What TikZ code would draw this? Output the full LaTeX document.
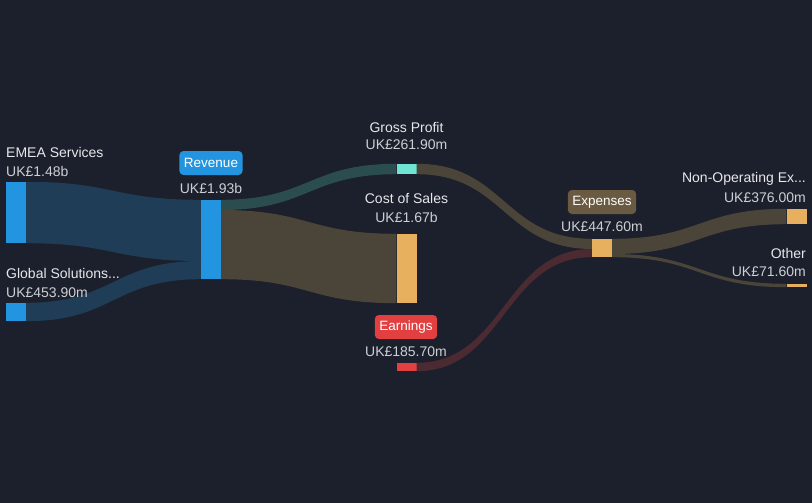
\documentclass[tikz,border=0pt]{standalone}
\usepackage{fontspec}
\setmainfont{Liberation Sans}
\usetikzlibrary{calc}

\definecolor{bg}{RGB}{27,32,44}
\definecolor{barblue}{RGB}{35,148,223}
\definecolor{blueflow}{RGB}{31,61,86}
\definecolor{barteal}{RGB}{112,228,210}
\definecolor{tealflow}{RGB}{44,77,80}
\definecolor{bargold}{RGB}{230,176,94}
\definecolor{brownflow}{RGB}{75,68,57}
\definecolor{barred}{RGB}{226,64,64}
\definecolor{redflow}{RGB}{75,42,50}
\definecolor{expbox}{RGB}{106,90,66}
\definecolor{lbl}{RGB}{232,232,235}
\definecolor{val}{RGB}{205,207,212}

% ribbon from one bar slice to another
\newcommand{\ribbon}[5]{%
  \path ($(#1)!.5!(#3)$) coordinate (mid);
  \fill[#5] (#1) .. controls (mid |- #1) and (mid |- #3) .. (#3) -- (#4)
    .. controls (mid |- #4) and (mid |- #2) .. (#2) -- cycle;}

\tikzset{
  bar/.style={fill=#1, inner sep=0pt, minimum width=20pt},
  catname/.style={text=lbl, inner sep=0pt, font=\fontsize{14}{16}\selectfont},
  amount/.style={text=val, inner sep=0pt, font=\fontsize{14}{16}\selectfont},
  tag/.style={fill=#1, rounded corners=4pt, text=white, inner xsep=4.5pt,
    minimum height=24pt, font=\fontsize{13.5}{16}\selectfont},
}

\begin{document}
\begin{tikzpicture}[x=1pt, y=-1pt]
	\fill[bg] (0,0) rectangle (812,503);
	\useasboundingbox (0,0) rectangle (812,503);

	% bars
	\node[bar=barblue, minimum height=61pt] (emea) at (16,212.5) {};
	\node[bar=barblue, minimum height=18pt] (glob) at (16,312) {};
	\node[bar=barblue, minimum height=79pt] (rev) at (211,239.5) {};
	\node[bar=barteal, minimum height=10pt] (gp) at (406.5,169) {};
	\node[bar=bargold, minimum height=69pt] (cos) at (406.5,268.5) {};
	\node[bar=barred, minimum height=8pt] (earn) at (406.5,367) {};
	\node[bar=bargold, minimum height=18pt] (exp) at (602,248) {};
	\node[bar=bargold, minimum height=15pt] (nonop) at (796.5,216.5) {};
	\node[bar=bargold, minimum height=3pt] (other) at (796.5,285.5) {};

	\coordinate (revL) at (201,261);
	\coordinate (revR) at (221,210);
	\coordinate (expL) at (592,249);
	\coordinate (expR) at (612,254);

	% flows
	\ribbon{emea.north east}{emea.south east}{rev.north west}{revL}{blueflow}
	\ribbon{glob.north east}{glob.south east}{revL}{rev.south west}{blueflow}
	\ribbon{rev.north east}{revR}{gp.north west}{gp.south west}{tealflow}
	\ribbon{revR}{rev.south east}{cos.north west}{cos.south west}{brownflow}
	\ribbon{gp.north east}{gp.south east}{exp.north west}{expL}{brownflow}
	\ribbon{earn.north east}{earn.south east}{expL}{exp.south west}{redflow}
	\ribbon{exp.north east}{expR}{nonop.north west}{nonop.south west}{brownflow}
	\ribbon{expR}{exp.south east}{other.north west}{other.south west}{brownflow}

	% labels
	\node[catname, anchor=west] (emea-n) at (6,152) {EMEA Services};
	\node[amount, anchor=west] (emea-v) at (6,171) {UK£1.48b};
	\node[catname, anchor=west] (glob-n) at (6,273) {Global Solutions...};
	\node[amount, anchor=west] (glob-v) at (6,293) {UK£453.90m};
	\node[tag=barblue] (rev-n) at (211,163) {Revenue};
	\node[amount] (rev-v) at (211,188) {UK£1.93b};
	\node[catname] (gp-n) at (406.5,127) {Gross Profit};
	\node[amount] (gp-v) at (406.5,145) {UK£261.90m};
	\node[catname] (cos-n) at (406.5,198) {Cost of Sales};
	\node[amount] (cos-v) at (406.5,217) {UK£1.67b};
	\node[tag=barred] (earn-n) at (406,327) {Earnings};
	\node[amount] (earn-v) at (406,352) {UK£185.70m};
	\node[tag=expbox] (exp-n) at (602,202) {Expenses};
	\node[amount] (exp-v) at (602,227) {UK£447.60m};
	\node[catname, anchor=east] (nonop-n) at (806,179) {Non-Operating Ex...};
	\node[amount, anchor=east] (nonop-v) at (806,198) {UK£376.00m};
	\node[catname, anchor=east] (other-n) at (806,253) {Other};
	\node[amount, anchor=east] (other-v) at (806,272) {UK£71.60m};
\end{tikzpicture}
\end{document}
